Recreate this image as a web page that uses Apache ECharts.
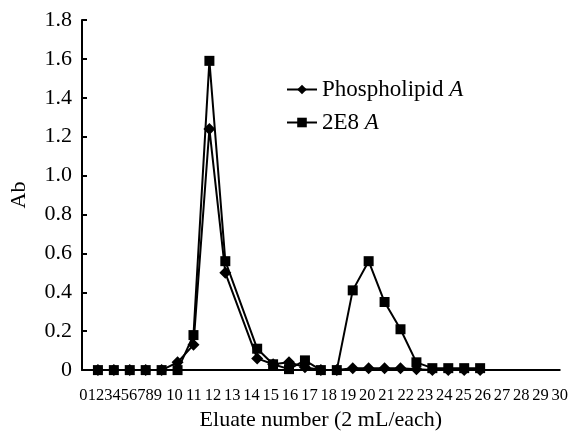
<!DOCTYPE html>
<html>
<head>
<meta charset="utf-8">
<script src="https://cdn.jsdelivr.net/npm/echarts@6/dist/echarts.min.js"></script>
<style>html,body{margin:0;padding:0;background:#fff}#c{width:571px;height:436px}</style>
</head>
<body>
<div id="c"></div>
<script>
// Data
const eluatePositions = [1,2,3,4,5,6,7,8,9,11,12,13,14,15,16,17,18,19,20,21,22,23,24,25];
const phospholipidA = [0,0,0,0,0,0.04,0.13,1.24,0.50,0.06,0.03,0.04,0.015,0.0,0.0,0.01,0.01,0.01,0.01,0.005,0,0,0,0];
const e2e8A =        [0,0,0,0,0,0.0,0.18,1.59,0.56,0.11,0.03,0.005,0.05,0.0,0.0,0.41,0.56,0.35,0.21,0.04,0.01,0.01,0.01,0.01];
const xTickLabels = ['0','1','2','3','4','5','6','7','8','9','10','11','12','13','14','15','16','17','18','19','20','21','22','23','24','25','26','27','28','29','30'];
const yTicks = [0,0.2,0.4,0.6,0.8,1.0,1.2,1.4,1.6,1.8];

// layout of the crowded tick label row (pixel centres -> axis units)
const gridLeft = 80, unitPx = 16;
function labelCenterPx(i){ return i < 10 ? 81.5 + 8.3 * i : 173 + 19.35 * (i - 10); }
const labelVals = xTickLabels.map((t,i)=> +((labelCenterPx(i) - gridLeft) / unitPx).toFixed(4));
const labelMap = {};
labelVals.forEach((v,i)=>{ labelMap[v] = xTickLabels[i]; });

const font = 'Liberation Serif';
const chart = echarts.init(document.getElementById('c'), null, {renderer:'canvas'});
chart.setOption({
  animation:false,
  backgroundColor:'#fff',
  grid:{left:80, right:11, top:20, bottom:65, containLabel:false},
  legend:{
    orient:'vertical', left:281, top:73, itemGap:10, itemWidth:30, itemHeight:12,
    textStyle:{fontFamily:font, fontSize:23, color:'#000',
      rich:{i:{fontFamily:font, fontSize:23, fontStyle:'italic', color:'#000'}}},
    formatter:function(n){ return n.replace(/ A$/, ' {i|A}'); },
    data:['Phospholipid A','2E8 A']
  },
  xAxis:{
    type:'value', min:0, max:30,
    name:'Eluate number (2 mL/each)', nameLocation:'middle', nameGap:37,
    nameTextStyle:{fontFamily:font, fontSize:22, color:'#000'},
    axisLine:{show:true, lineStyle:{color:'#000', width:2}},
    axisTick:{show:false},
    splitLine:{show:false},
    axisLabel:{customValues:labelVals, showMinLabel:true, showMaxLabel:true, hideOverlap:false,
      fontFamily:font, fontSize:16.5, color:'#000', margin:17,
      formatter:function(v){ return labelMap[+(+v).toFixed(4)] ?? ''; }}
  },
  yAxis:{
    type:'value', min:0, max:1.8, interval:0.2,
    name:'Ab', nameLocation:'middle', nameGap:52,
    nameTextStyle:{fontFamily:font, fontSize:22, color:'#000'},
    axisLine:{show:true, lineStyle:{color:'#000', width:2}},
    axisTick:{show:true, inside:true, length:5, lineStyle:{color:'#000', width:2}},
    splitLine:{show:false},
    axisLabel:{fontFamily:font, fontSize:22, color:'#000', margin:10,
      formatter:function(v){ return v === 0 ? '0' : v.toFixed(1); }}
  },
  series:[
    {name:'Phospholipid A', type:'line', data:eluatePositions.map((x,i)=>[x, phospholipidA[i]]),
     symbol:'diamond', symbolSize:12, lineStyle:{color:'#000', width:2}, itemStyle:{color:'#000'}},
    {name:'2E8 A', type:'line', data:eluatePositions.map((x,i)=>[x, e2e8A[i]]),
     symbol:'rect', symbolSize:10, lineStyle:{color:'#000', width:2}, itemStyle:{color:'#000'}}
  ]
});
</script>
</body>
</html>
